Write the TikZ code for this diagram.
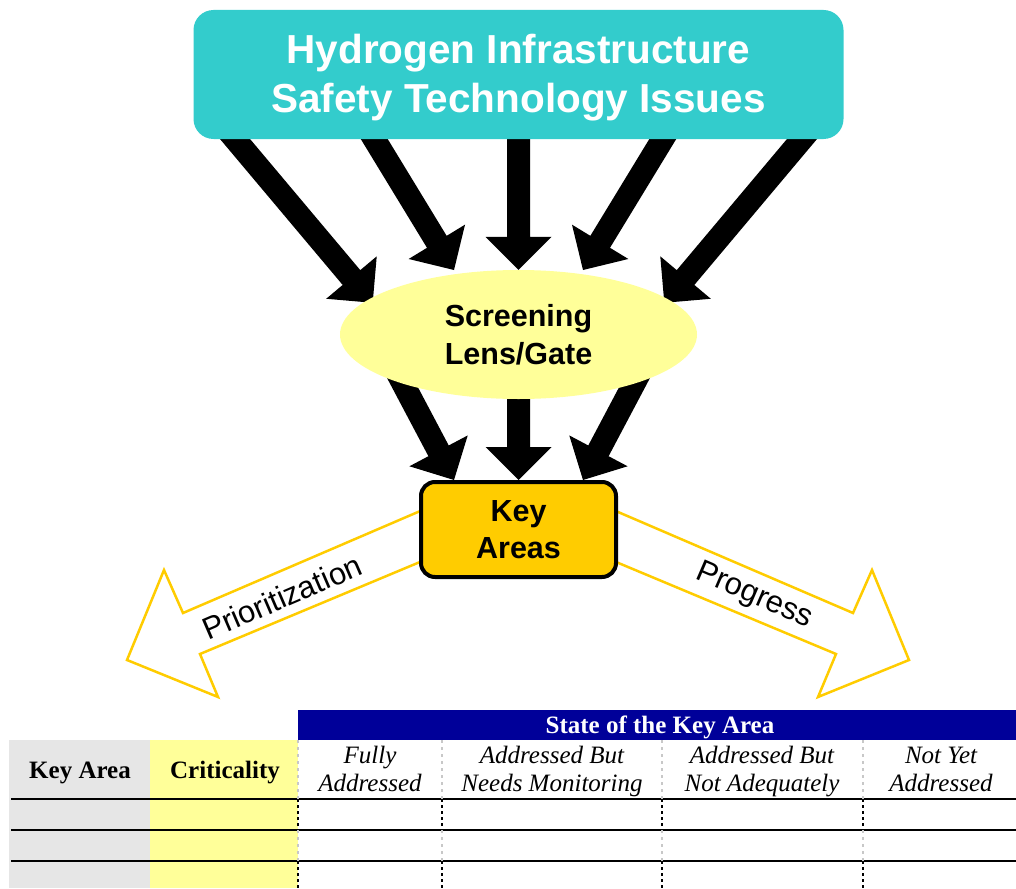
\documentclass[tikz,border=0pt]{standalone}
\usepackage{fontspec}
\setmainfont{Liberation Serif}
\setsansfont{Liberation Sans}
\usetikzlibrary{calc,backgrounds,shapes.geometric}

\definecolor{issuecol}{HTML}{33CCCC}
\definecolor{lenscol}{HTML}{FFFF99}
\definecolor{keycol}{HTML}{FFCC00}
\definecolor{hdrblue}{HTML}{000099}
\definecolor{cellgray}{HTML}{E6E6E6}
\definecolor{cellyellow}{HTML}{FFFF99}
\definecolor{softgray}{HTML}{C8C8C8}

\tikzset{
  issuebox/.style={rounded corners=20pt, fill=issuecol, minimum width=650pt,
    minimum height=129pt, inner sep=0pt, text=white, align=center,
    font=\sffamily\bfseries\fontsize{40.5}{49}\selectfont},
  lensnode/.style={ellipse, fill=lenscol, minimum width=357pt, minimum height=129pt,
    inner sep=0pt, align=center, font=\sffamily\bfseries\fontsize{30.5}{38}\selectfont},
  keybox/.style={rounded corners=14pt, draw=black, line width=4pt, fill=keycol,
    minimum width=195pt, minimum height=95pt, inner sep=0pt, align=center,
    font=\sffamily\bfseries\fontsize{30.5}{37}\selectfont},
  blockfill/.style={fill=black},
  hollowarrow/.style={draw=keycol, line width=2.5pt, fill=white, line join=miter},
  flowlabel/.style={inner sep=0pt, font=\sffamily\fontsize{31}{36}\selectfont},
  hdrtext/.style={inner sep=0pt, anchor=base, text=white, font=\bfseries\fontsize{25}{30}\selectfont},
  rowhead/.style={inner sep=0pt, anchor=base, font=\bfseries\fontsize{25}{30}\selectfont},
  colhead/.style={inner sep=0pt, anchor=base, font=\itshape\fontsize{25}{30}\selectfont},
  rowrule/.style={draw=black, line width=1.2pt},
  softdash/.style={draw=softgray, line width=1.5pt, dash pattern=on 3pt off 4pt},
  harddot/.style={draw=black, line width=2pt, dash pattern=on 3pt off 3pt},
}

% thick black block arrow from #1 to tip #2
\newcommand\blockarrow[2]{%
  \coordinate (ba-s) at (#1);
  \coordinate (ba-t) at (#2);
  \coordinate (ba-m) at ($(ba-t)!33pt!(ba-s)$);
  \path[blockfill] ($(ba-s)!11.5pt!90:(ba-t)$) -- ($(ba-m)!11.5pt!90:(ba-t)$)
    -- ($(ba-m)!33pt!90:(ba-t)$) -- (ba-t) -- ($(ba-m)!33pt!-90:(ba-t)$)
    -- ($(ba-m)!11.5pt!-90:(ba-t)$) -- ($(ba-s)!11.5pt!-90:(ba-t)$) -- cycle;
}

\begin{document}
\begin{tikzpicture}[x=1pt, y=-1pt]
\useasboundingbox (0,0) rectangle (1016,888);

% main flow
\node[issuebox] (issues) at (518.5,74.5)
  {\rule{0pt}{35pt}Hydrogen Infrastructure\\Safety Technology Issues};
\node[lensnode] (lens) at (518.5,334.5) {Screening\\Lens/Gate};
\node[keybox] (keys) at (518.5,529.5) {Key\\Areas};

\begin{pgfonlayer}{background}
  % issues -> screening lens
  \blockarrow{$(issues.south)+(-295.1,-14)$}{$(lens.center)+(-145.8,-31.7)$}
  \blockarrow{$(issues.south)+(-152.7,-14)$}{$(lens.center)+(-64.5,-64.5)$}
  \blockarrow{$(issues.south)+(0,-14)$}{lens.north}
  \blockarrow{$(issues.south)+(152.7,-14)$}{$(lens.center)+(64.5,-64.5)$}
  \blockarrow{$(issues.south)+(295.1,-14)$}{$(lens.center)+(145.8,-31.7)$}
  % screening lens -> key areas
  \blockarrow{$(lens.center)+(-128,25.5)$}{$(keys.north)+(-64.5,0)$}
  \blockarrow{$(lens.center)+(0,25.5)$}{keys.north}
  \blockarrow{$(lens.center)+(128,25.5)$}{$(keys.north)+(64.5,0)$}
  % outline arrows leaving the key areas
  \path[hollowarrow] (430,506.8) -- (183,613) -- (164,570) -- (127,660)
    -- (218,697) -- (200,654) -- (430,557.8) -- cycle;
  \path[hollowarrow] (606,506.8) -- (853,613) -- (872,570) -- (909,660)
    -- (818,697) -- (836,654) -- (606,557.8) -- cycle;
\end{pgfonlayer}

\node[flowlabel, rotate=23.3] (prio) at (282,597) {Prioritization};
\node[flowlabel, rotate=-23.3] (prog) at (754,596) {Progress};

% status table
\fill[cellgray] (9,740) rectangle (150,888);
\fill[cellyellow] (150,740) rectangle (298,888);
\fill[hdrblue] (298,710) rectangle (1016,740);
\node[hdrtext] (state) at (660,733) {State of the Key Area};
\node[rowhead] (karea) at (80,778) {Key Area};
\node[rowhead] (crit) at (225,778) {Criticality};

\node[colhead] (c1a) at (370,763) {Fully};
\node[colhead] (c1b) at (370,791) {Addressed};
\node[colhead] (c2a) at (552,763) {Addressed But};
\node[colhead] (c2b) at (552,791) {Needs Monitoring};
\node[colhead] (c3a) at (762,763) {Addressed But};
\node[colhead] (c3b) at (762,791) {Not Adequately};
\node[colhead] (c4a) at (941,763) {Not Yet};
\node[colhead] (c4b) at (941,791) {Addressed};

\foreach \y in {799,830,861} \draw[rowrule] (11,\y) -- (1016,\y);
\foreach \x in {298,442,662,863} {
  \draw[softdash] (\x,740) -- (\x,799);
  \draw[harddot] (\x,799) -- (\x,830);
  \draw[softdash] (\x,830) -- (\x,861);
  \draw[harddot] (\x,861) -- (\x,888);
}
\end{tikzpicture}
\end{document}
